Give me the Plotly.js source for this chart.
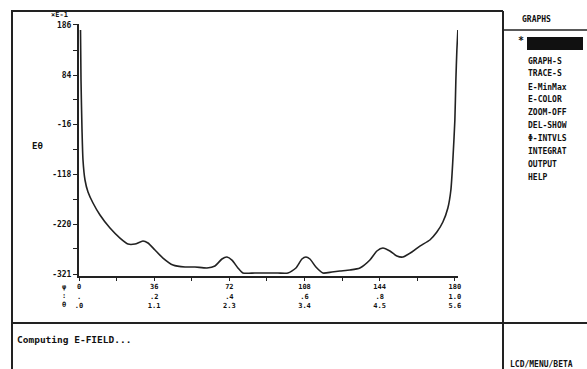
<!DOCTYPE html>
<html>
<head>
<meta charset="utf-8">
<script src="https://cdn.plot.ly/plotly-3.0.1.min.js"></script>
<style>html,body{margin:0;padding:0;background:#fff;}#chart{width:587px;height:369px;}</style>
</head>
<body>
<div id="chart"></div>
<script>
// ---- data ----
const angle = [0.72,0.96,1.44,1.91,2.87,4.31,6.70,10.05,14.84,19.63,23.46,26.81,30.64,33.03,36.38,40.21,45.0,50.74,55.53,61.28,65.1,68.46,70.85,73.24,76.12,78.51,84.26,90.0,95.27,100.05,103.88,106.76,108.67,110.59,113.46,116.81,121.12,124.95,129.73,134.52,139.31,142.66,145.53,148.88,152.23,155.11,159.41,163.24,168.03,171.38,174.26,176.65,178.09,179.04,180.0,180.48,180.96,181.44];
const field = [175.8,74,-27.8,-88.9,-129.6,-154,-176.4,-200.8,-227.3,-247.7,-259.9,-259.9,-253.8,-257.9,-272.1,-288.4,-302.6,-306.7,-306.7,-308.7,-304.7,-290.4,-286.4,-292.5,-308.7,-318.9,-318.9,-318.9,-318.9,-318.9,-308.7,-290.4,-286.4,-290.4,-306.7,-318.9,-316.9,-314.9,-312.8,-308.7,-292.5,-274.1,-268,-274.1,-284.3,-286.4,-276.2,-264,-251.7,-235.5,-215.1,-186.6,-149.9,-88.9,-7.4,74,135.1,175.8];
const yTickVals = [186,135,84,34,-16,-67,-118,-169,-220,-270,-321];
const yTickText = ['186','','84','','-16','','-118','','-220','','-321'];
const xTickVals = [0,18,36,54,72,90,108,126,144,162,180];
const xTickText = ['0<br>.<br>.0','','36<br>.2<br>1.1','','72<br>.4<br>2.3','','108<br>.6<br>3.4','','144<br>.8<br>4.5','','180<br>1.0<br>5.6'];
const menuItems = ['GRAPH-S','TRACE-S','E-MinMax','E-COLOR','ZOOM-OFF','DEL-SHOW','Φ-INTVLS','INTEGRAT','OUTPUT','HELP'];

// ---- pixel helpers (layout only) ----
const L=79, R=458, T=24, B=276;
const px = x => (x-L)/(R-L);
const py = y => (B-y)/(B-T);
const mono = {family:'DejaVu Sans Mono', color:'#111', weight:'bold'};

const shapes = [];
function hline(x0,x1,y,w){shapes.push({type:'line',xref:'paper',yref:'paper',x0:px(x0),x1:px(x1),y0:py(y),y1:py(y),line:{color:'#222',width:w||2}});}
function vline(x,y0,y1,w){shapes.push({type:'line',xref:'paper',yref:'paper',x0:px(x),x1:px(x),y0:py(y0),y1:py(y1),line:{color:'#222',width:w||2}});}
hline(11,503,11);
vline(12,11,369);
vline(503,11,369);
hline(503,587,30,1.5);
hline(11,587,323);
shapes.push({type:'rect',xref:'paper',yref:'paper',x0:px(527),x1:px(583),y0:py(50),y1:py(37),fillcolor:'#111',line:{width:0}});

const ann = [];
function txt(s,x,y,size,anchor){ann.push({text:s,xref:'paper',yref:'paper',x:px(x),y:py(y),xanchor:anchor||'left',yanchor:'middle',showarrow:false,font:Object.assign({size:size},mono)});}
txt('GRAPHS',520,19,8);
txt('*',516,40,10);
menuItems.forEach((m,i)=>txt(m,526,61+i*12.9,8));
txt('Computing E-FIELD...',15,339,9.5);
txt('LCD/MENU/BETA',508,364,8);
txt('×E-1',70,15,7,'right');
txt('Eθ',30,146,9,'left');
txt('φ<br>:<br>θ',64,296,7,'center');

const trace = {x:angle,y:field,type:'scatter',mode:'lines',line:{color:'#222',width:1.6,shape:'spline',smoothing:0.6},hoverinfo:'skip'};

const layout = {
  width:587,height:369,
  margin:{l:L,r:587-R,t:T,b:369-B},
  paper_bgcolor:'#fff',plot_bgcolor:'#fff',
  showlegend:false,
  xaxis:{range:[0,181.5],tickvals:xTickVals,ticktext:xTickText,ticks:'outside',ticklen:3,tickcolor:'#222',
         showgrid:false,zeroline:false,showline:true,linecolor:'#222',linewidth:2,
         tickfont:{family:'DejaVu Sans Mono',size:7,color:'#111',weight:'bold'}},
  yaxis:{range:[-325,188],tickvals:yTickVals,ticktext:yTickText,ticks:'outside',ticklen:4,tickcolor:'#222',
         showgrid:false,zeroline:false,showline:true,linecolor:'#222',linewidth:2,
         tickfont:{family:'DejaVu Sans Mono',size:8,color:'#111',weight:'bold'}},
  shapes:shapes,annotations:ann
};
Plotly.newPlot('chart',[trace],layout,{staticPlot:true,displayModeBar:false});
</script>
</body>
</html>
